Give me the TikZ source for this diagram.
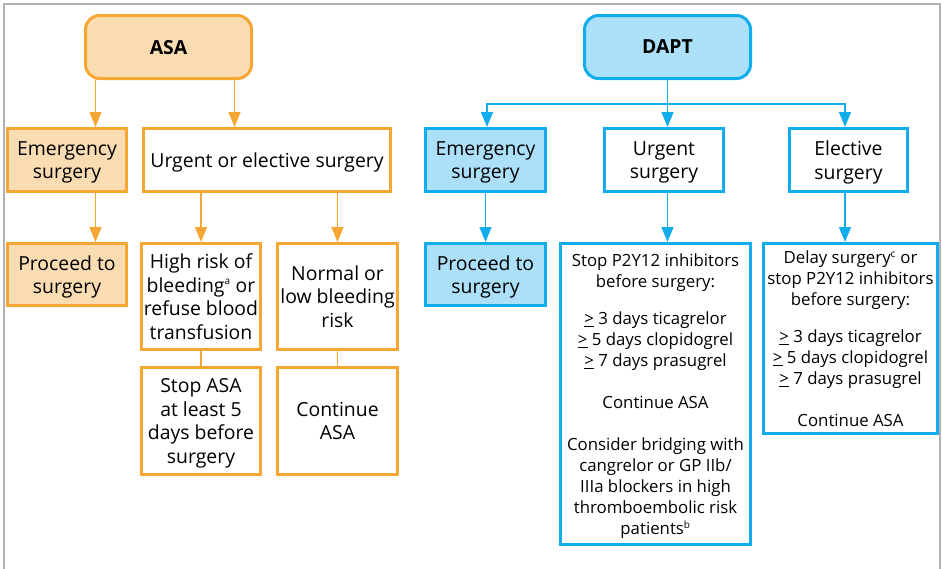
\documentclass[tikz,border=0pt]{standalone}
\usepackage{fontspec}
\setmainfont{Open Sans}
\usetikzlibrary{positioning,arrows.meta}
\definecolor{asaline}{RGB}{246,166,51}
\definecolor{asafill}{RGB}{250,220,178}
\definecolor{daptline}{RGB}{17,172,236}
\definecolor{daptfill}{RGB}{172,224,249}
\newcommand{\boxfont}{\fontsize{19.4}{23.6}\selectfont}
\newcommand{\notefont}{\fontsize{16.8}{21}\selectfont}
\newcommand{\atleast}{\underline{>}}
\newcommand{\fnmark}[1]{\textsuperscript{\fontsize{10}{10}\selectfont #1}}

\begin{document}
\begin{tikzpicture}[x=1pt,y=-1pt,
    box/.style={draw,line width=3pt,align=center,inner sep=2pt,text depth=0pt,font=\boxfont},
    headbox/.style={box,rounded corners=14pt,minimum width=166,minimum height=63,font=\boxfont\bfseries},
    notebox/.style={font=\notefont},
    flow/.style={line width=1.4pt,-{Triangle[length=15pt,width=12pt]}}]
    \useasboundingbox (0,0) rectangle (942,568);
    \draw[black!30,line width=1.2pt] (4,570) -- (4,4) -- (940,4) -- (940,570);

    % ASA side
    \begin{scope}[every node/.style={box,draw=asaline}]
        \node[headbox,fill=asafill] (asa) at (168.5,47) {ASA};
        \node[fill=asafill,minimum width=119,minimum height=63] (emA) at (67,160) {Emergency\\surgery};
        \node[minimum width=247,minimum height=63] (ue) at (267,160) {Urgent or elective surgery};
        \node[fill=asafill,minimum width=119,minimum height=62] (procA) at (67,274.5) {Proceed to\\surgery};
        \node[minimum width=119,minimum height=106] (high) at (201,296.5) {High risk of\\bleeding\fnmark{a} or\\refuse blood\\transfusion};
        \node[minimum width=120,minimum height=106] (normal) at (337.5,296.5) {Normal or\\low bleeding\\risk};
        \node[minimum width=119,minimum height=107] (stopA) at (201,421) {Stop ASA\\at least 5\\days before\\surgery};
        \node[minimum width=120,minimum height=107] (contA) at (337.5,421) {Continue\\ASA};
    \end{scope}

    \begin{scope}[every path/.style={draw=asaline}]
        \coordinate (aL) at ([xshift=11.5pt]asa.south west);
        \coordinate (aR) at ([xshift=-18.5pt]asa.south east);
        \draw[flow] (aL) -- (aL |- emA.north);
        \draw[flow] (aR) -- (aR |- ue.north);
        \draw[flow] (aL |- emA.south) -- (aL |- procA.north);
        \draw[flow] (high.north |- ue.south) -- (high.north);
        \draw[flow] (normal.north |- ue.south) -- (normal.north);
        \draw[line width=1.4pt] (high.south) -- (stopA.north);
        \draw[line width=1.4pt] (normal.south) -- (contA.north);
    \end{scope}

    % DAPT side
    \begin{scope}[every node/.style={box,draw=daptline}]
        \node[headbox,fill=daptfill] (dapt) at (667.5,47) {DAPT};
        \node[fill=daptfill,minimum width=120,minimum height=63] (emB) at (485.5,160) {Emergency\\surgery};
        \node[minimum width=119,minimum height=63] (urg) at (664,160) {Urgent\\surgery};
        \node[minimum width=118,minimum height=63] (elec) at (848.5,160) {Elective\\surgery};
        \node[fill=daptfill,minimum width=120,minimum height=62] (procB) at (485.5,274.5) {Proceed to\\surgery};
        \node[notebox,minimum width=190,minimum height=301] (stopB) at (655.5,394)
            {Stop P2Y12 inhibitors\\before surgery:\\[16pt]
             \atleast\ 3 days ticagrelor\\\atleast\ 5 days clopidogrel\\\atleast\ 7 days prasugrel\\[21pt]
             Continue ASA\\[21pt]
             Consider bridging with\\cangrelor or GP IIb/\\IIIa blockers in high\\thromboembolic risk\\patients\fnmark{b}};
        \node[notebox,minimum width=174,minimum height=190] (delay) at (850.5,338.5)
            {Delay surgery\fnmark{c} or\\stop P2Y12 inhibitors\\before surgery:\\[16pt]
             \atleast\ 3 days ticagrelor\\\atleast\ 5 days clopidogrel\\\atleast\ 7 days prasugrel\\[21pt]
             Continue ASA};
    \end{scope}

    \begin{scope}[every path/.style={draw=daptline}]
        \coordinate (split) at (dapt.south |- 0,104);
        \draw[line width=1.4pt] (dapt.south) -- (split);
        \draw[flow] (split) -- (dapt.south |- urg.north);
        \draw[flow] (split) -| ([xshift=1.5pt]emB.north);
        \draw[flow] (split) -| ([xshift=-3.5pt]elec.north);
        \draw[flow] (emB.south) -- (procB.north);
        \draw[flow] (dapt.south |- urg.south) -- (dapt.south |- stopB.north);
        \draw[flow] ([xshift=-3.5pt]elec.south) -- ([xshift=-3.5pt]elec.south |- delay.north);
    \end{scope}
\end{tikzpicture}
\end{document}
